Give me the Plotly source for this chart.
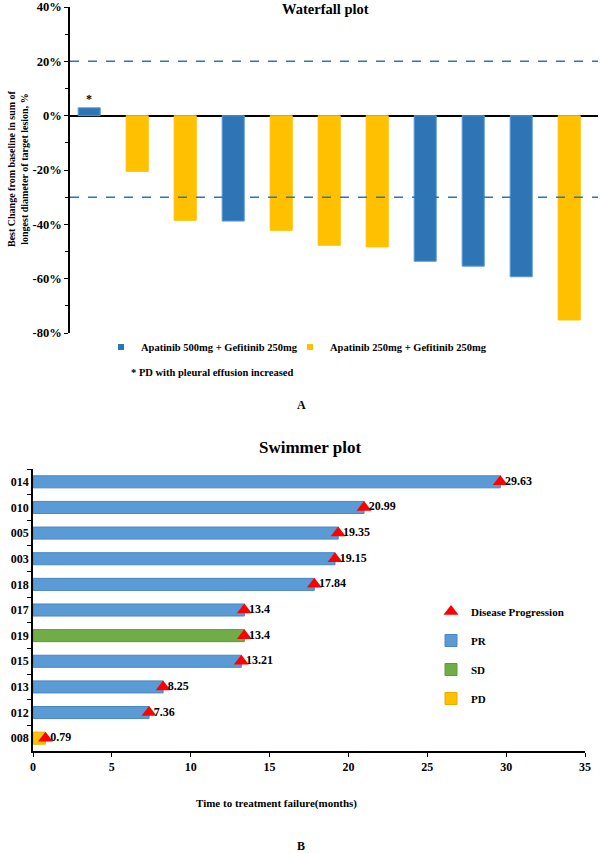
import plotly.graph_objects as go

# ---------------- data ----------------
# Waterfall plot (best change from baseline, %)
wf_values = [2.9, -20.5, -38.5, -38.8, -42.2, -47.7, -48.3, -53.6, -55.4, -59.3, -75.2]
wf_groups = ["500", "250", "250", "500", "250", "250", "250", "500", "500", "500", "250"]
wf_group_names = {"500": "Apatinib 500mg + Gefitinib 250mg",
                  "250": "Apatinib 250mg + Gefitinib 250mg"}
wf_ref_lines = [20, -30]
wf_yticks = [-80, -60, -40, -20, 0, 20, 40]

# Swimmer plot (time to treatment failure, months)
sw_ids = ["014", "010", "005", "003", "018", "017", "019", "015", "013", "012", "008"]
sw_ttf = [29.63, 20.99, 19.35, 19.15, 17.84, 13.4, 13.4, 13.21, 8.25, 7.36, 0.79]
sw_resp = ["PR", "PR", "PR", "PR", "PR", "PR", "SD", "PR", "PR", "PR", "PD"]
sw_xticks = [0, 5, 10, 15, 20, 25, 30, 35]

# ---------------- styling ----------------
W, H = 600, 853
FONT = "Liberation Serif, Times New Roman, serif"
wf_colors = {"500": "#2e75b6", "250": "#ffc000"}
wf_lines = {"500": "#5b9bd5", "250": "#ffc000"}
wf_legend_x = {"500": 101, "250": 290}
sw_colors = {"PR": "#5b9bd5", "SD": "#70ad47", "PD": "#ffc000"}
sw_lines = {"PR": "#4a86c4", "SD": "#5e9a3a", "PD": "#e6ad00"}


def px(x):
    return x / W


def py(y):
    return 1 - y / H


fig = go.Figure()

# Waterfall bars
for g in ["500", "250"]:
    xs = [i for i, gg in enumerate(wf_groups) if gg == g]
    ys = [wf_values[i] for i in xs]
    fig.add_trace(go.Bar(
        x=xs, y=ys, name=wf_group_names[g], width=0.46,
        marker=dict(color=wf_colors[g], line=dict(color=wf_lines[g], width=1)),
        xaxis="x", yaxis="y", showlegend=False,
    ))
# legend keys for the waterfall (small squares), one legend per group
wf_legend_ids = {"500": "legend", "250": "legend3"}
for g in ["500", "250"]:
    fig.add_trace(go.Scatter(
        x=[None], y=[None], mode="markers", name=wf_group_names[g],
        marker=dict(symbol="square", size=6, color=wf_colors[g]),
        xaxis="x", yaxis="y", legend=wf_legend_ids[g], showlegend=True,
    ))

# Swimmer bars
for r in ["PR", "SD", "PD"]:
    idx = [i for i, rr in enumerate(sw_resp) if rr == r]
    fig.add_trace(go.Bar(
        y=[sw_ids[i] for i in idx], x=[sw_ttf[i] for i in idx], base=0,
        orientation="h", name=r, width=0.47, legendgroup=r,
        marker=dict(color=sw_colors[r], line=dict(color=sw_lines[r], width=1)),
        xaxis="x2", yaxis="y2", legend="legend2",
    ))

# Disease progression markers
fig.add_trace(go.Scatter(
    x=sw_ttf, y=sw_ids, mode="markers", name="Disease Progression",
    legendgroup="DP",
    marker=dict(symbol="triangle-up", size=13, color="#ff0000"),
    xaxis="x2", yaxis="y2", legend="legend2", legendrank=1,
))
# value labels (invisible marker only sets the text offset)
fig.add_trace(go.Scatter(
    x=sw_ttf, y=sw_ids, mode="markers+text", showlegend=False,
    marker=dict(size=6, color="rgba(0,0,0,0)"),
    text=[str(v) for v in sw_ttf], textposition="middle right",
    textfont=dict(size=12, family=FONT, color="black", weight="bold"),
    xaxis="x2", yaxis="y2", hoverinfo="skip",
))

shapes = []
for v in wf_ref_lines:
    shapes.append(dict(type="line", xref="x domain", x0=0, x1=1, yref="y", y0=v, y1=v,
                       line=dict(color="#2e75b6", width=1.5, dash="dash")))


def note(text, x, y, size, **kw):
    d = dict(text=text, x=px(x), y=py(y), xref="paper", yref="paper",
             xanchor="center", yanchor="middle", showarrow=False,
             font=dict(size=size, family=FONT, weight="bold", color="black"))
    d.update(kw)
    return d


annotations = [
    note("Waterfall plot", 325, 9, 14.5),
    note("Best Change from baseline in sum of<br>longest diameter of target lesion, %",
         18, 169, 10, textangle=-90),
    dict(text="*", x=0, y=wf_values[0], xref="x", yref="y", yanchor="bottom",
         xanchor="center", showarrow=False,
         font=dict(size=12, family=FONT, weight="bold")),
    note("* PD with pleural effusion increased", 129, 372, 10.5, xanchor="left"),
    note("A", 301, 405, 12),
    note("Swimmer plot", 310, 447, 17),
    note("Time to treatment failure(months)", 276, 803, 11),
    note("B", 301, 846, 12),
]

legend_common = dict(font=dict(size=10.5, family=FONT, weight="bold", color="black"),
                     bgcolor="rgba(0,0,0,0)", xanchor="left", yanchor="middle",
                     y=py(347))

fig.update_layout(
    width=W, height=H,
    margin=dict(l=0, r=0, t=0, b=0, autoexpand=False),
    paper_bgcolor="white", plot_bgcolor="white",
    font=dict(family=FONT, size=12, color="black", weight="bold"),
    barmode="overlay",
    shapes=shapes, annotations=annotations,
    xaxis=dict(domain=[px(70), px(598)], range=[-0.4, 10.6], showticklabels=False,
               showgrid=False, zeroline=False, showline=False, ticks="",
               automargin=False, fixedrange=True),
    yaxis=dict(domain=[py(333), py(7)], range=[-80, 40], tickvals=wf_yticks,
               ticktext=[f"{v}%" for v in wf_yticks],
               ticks="outside", ticklen=4, tickwidth=1, tickcolor="black",
               minor=dict(dtick=10, ticks="outside", ticklen=3, tickcolor="black"),
               showline=True, linecolor="black", linewidth=1.5,
               showgrid=False, zeroline=True, zerolinecolor="black", zerolinewidth=1.5,
               automargin=False,
               tickfont=dict(size=12.5, family=FONT, weight="bold")),
    xaxis2=dict(domain=[px(33), px(585)], range=[0, 35], tickvals=sw_xticks,
                ticks="outside", ticklen=4, tickcolor="black",
                showline=True, linecolor="black", linewidth=1.5,
                showgrid=False, zeroline=False, anchor="y2", automargin=False,
                tickfont=dict(size=12, family=FONT, weight="bold")),
    yaxis2=dict(domain=[py(751), py(469)], type="category",
                categoryorder="array", categoryarray=sw_ids, range=[10.5, -0.5],
                ticks="outside", ticklen=4, tickcolor="black", tickson="boundaries",
                showline=True, linecolor="black", linewidth=1.5,
                showgrid=False, zeroline=False, anchor="x2", automargin=False,
                tickfont=dict(size=12, family=FONT, weight="bold")),
    legend=dict(x=px(wf_legend_x["500"]), **legend_common),
    legend3=dict(x=px(wf_legend_x["250"]), **legend_common),
    legend2=dict(x=px(431), y=py(597), xanchor="left", yanchor="top",
                 traceorder="grouped", tracegroupgap=10,
                 font=dict(size=11, family=FONT, weight="bold", color="black"),
                 bgcolor="rgba(0,0,0,0)"),
)

fig.write_html("out.html", config={"displayModeBar": False},
               post_script="document.body.style.margin='0px';")
